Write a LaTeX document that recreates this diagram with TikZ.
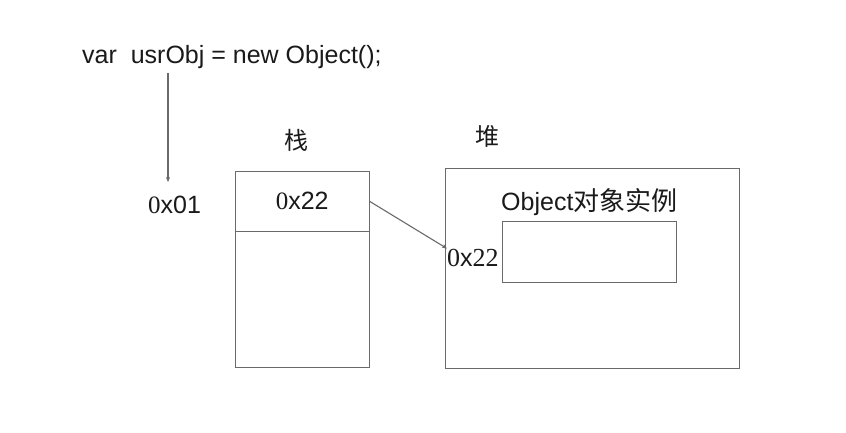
\documentclass[tikz,border=0pt]{standalone}
\usepackage{fontspec}
\setmainfont{Liberation Sans}
\newfontfamily\serifzero{Liberation Serif}
\newfontfamily\cjk{Noto Sans CJK SC}
\usetikzlibrary{arrows.meta}
\definecolor{linegray}{HTML}{6A6A6A}
\definecolor{textblack}{HTML}{1A1A1A}
\tikzset{
  box/.style={draw=linegray, line width=1.3pt, inner sep=0pt, anchor=north west},
  cell/.style={inner sep=0pt, anchor=north west},
  txt/.style={inner sep=0pt, text=textblack, font=\fontsize{25}{30}\selectfont},
  cjktxt/.style={inner sep=0pt, text=textblack, font=\cjk\fontsize{24}{28}\selectfont},
  conn/.style={draw=linegray, line width=1.1pt, -{Stealth[length=5pt,width=4pt]}}
}
\begin{document}
\begin{tikzpicture}[x=1pt,y=-1pt]
\useasboundingbox[fill=white] (0,0) rectangle (846,432);
% code line
\node[txt, anchor=base west] (code) at (82,63) {var\ \ usrObj = new Object();};
\node[txt, anchor=base west] (v01) at (148,213) {{\serifzero 0}x01};
\coordinate (vtop) at (168,73);
\coordinate (vbot) at (168,182);
\draw[conn] (vtop) -- (vbot);
% stack
\node[cjktxt] (stacklab) at (296,140) {栈};
\node[box, minimum width=134pt, minimum height=196pt] (stack) at (235,171) {};
\node[cell, minimum width=134pt, minimum height=60pt] (stop) at (stack.north west) {};
\node[txt] (stopval) at (stop.center) {{\serifzero 0}x22};
\draw[draw=linegray, line width=1.3pt] (stop.south west) -- (stop.south east);
% heap
\node[cjktxt] (heaplab) at (487,136) {堆};
\node[box, minimum width=294pt, minimum height=200pt] (heap) at (445,168) {};
\node[txt, anchor=base west] (title) at (501,210) {Object{\cjk\fontsize{26}{30}\selectfont 对象实例}};
\node[box, minimum width=174pt, minimum height=61pt] (inst) at (502,221) {};
\node[txt, anchor=base west] (hlab) at (447,266) {{\serifzero\fontsize{26}{30}\selectfont 0}x{\serifzero\fontsize{26}{30}\selectfont 22}};
\draw[conn] (stop.east) -- (hlab.north west);
\end{tikzpicture}
\end{document}
